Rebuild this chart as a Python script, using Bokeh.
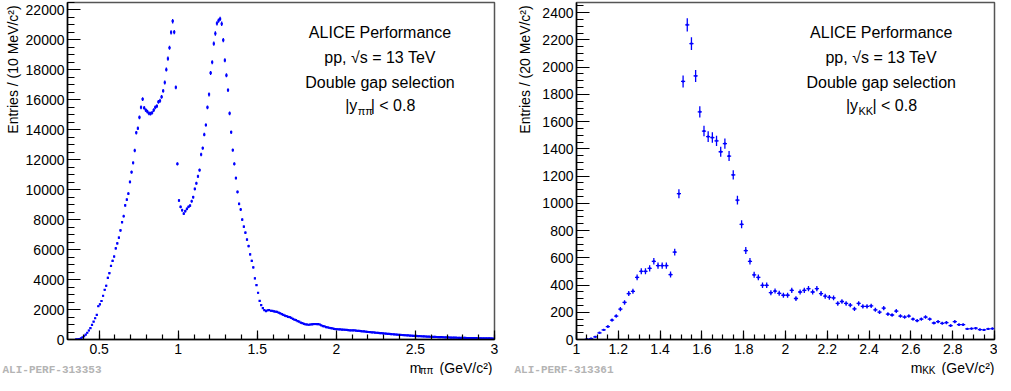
import math
from bokeh.plotting import figure
from bokeh.models import Range1d, FixedTicker, Label
from bokeh.layouts import row, column
from bokeh.embed import file_html
from bokeh.resources import INLINE

FONT = "Liberation Sans"

# ---------------- data: pi pi invariant mass (10 MeV bins) ----------------
pipi_first_bin = 0.355
pipi_bin_width = 0.01
pipi_counts = [
    3, 15, 35, 70, 140, 230, 330, 450, 600, 760,
    970, 1190, 1420, 1640, 2220, 2350, 2570, 2920, 3320, 3590,
    4120, 4430, 4910, 5250, 5540, 6090, 6420, 6800, 7280, 7830,
    8230, 8960, 9340, 9740, 10520, 11180, 11800, 12620, 13810, 14100,
    14830, 15500, 16050, 15470, 15320, 15210, 15100, 15080, 15140, 15320,
    15500, 15580, 15870, 15940, 16200, 16600, 17160, 18020, 18750, 19480,
    20500, 21250, 20520, 16830, 11730, 9280, 8860, 8630, 8410, 8570,
    8720, 8860, 8940, 9230, 9500, 10050, 10430, 10890, 11310, 12350,
    12780, 13680, 14320, 15500, 16360, 17800, 18510, 19750, 20430, 21110,
    21290, 21410, 21080, 19990, 18640, 17640, 16650, 15100, 13840, 12640,
    11730, 10780, 9850, 9060, 8680, 8010, 7530, 7130, 6670, 6240,
    5690, 5250, 4810, 4080, 3630, 3120, 2580, 2300, 2100, 1960,
    1900, 1940, 1970, 1920, 1905, 1880, 1860, 1840, 1790, 1750,
    1700, 1640, 1600, 1560, 1510, 1490, 1440, 1380, 1330, 1290,
    1230, 1200, 1120, 1090, 1040, 1010, 1000, 985, 1000, 1015,
    1020, 1035, 1020, 1025, 1000, 940, 895, 870, 830, 805,
    785, 760, 740, 715, 695, 685, 675, 670, 660, 662,
    650, 640, 632, 615, 605, 612, 603, 592, 580, 572,
    560, 548, 540, 528, 515, 500, 492, 480, 472, 460,
    452, 440, 430, 420, 410, 400, 392, 382, 372, 362,
    352, 345, 335, 326, 318, 308, 300, 292, 285, 276,
    270, 262, 256, 248, 242, 236, 228, 222, 216, 210,
    205, 200, 195, 190, 185, 180, 176, 171, 167, 162,
    158, 154, 150, 146, 142, 138, 134, 131, 128, 124,
    120, 118, 115, 112, 108, 106, 103, 100, 98, 95,
    92, 90, 88, 86, 84, 82, 80, 78, 76, 74,
    72, 70, 69, 67, 65,
]
pipi_mass = [round(pipi_first_bin + pipi_bin_width * i, 4) for i in range(len(pipi_counts))]

# ---------------- data: K K invariant mass (20 MeV bins) ----------------
kk_first_bin = 1.05
kk_bin_width = 0.02
kk_counts = [
    3, 7, 20, 49, 70, 95, 143, 172, 223, 272,
    337, 354, 456, 501, 501, 523, 574, 543, 543, 543,
    477, 642, 1071, 1895, 2311, 2173, 1936, 1672, 1531, 1490,
    1483, 1459, 1379, 1439, 1347, 1209, 1023, 846, 653, 574,
    475, 456, 398, 398, 344, 356, 339, 325, 325, 361,
    301, 349, 361, 373, 349, 373, 337, 318, 310, 305,
    265, 279, 265, 252, 225, 265, 243, 243, 247, 218,
    201, 230, 187, 180, 209, 172, 165, 172, 150, 138,
    150, 165, 150, 121, 131, 119, 124, 102, 131, 109,
    109, 78, 80, 83, 73, 70, 78, 80,
]
kk_mass = [round(kk_first_bin + kk_bin_width * i, 4) for i in range(len(kk_counts))]

# ---------------- axes / ticks ----------------
left_xrange = (0.3, 3.0)
left_yrange = (0, 22500)
left_xticks = [0.5, 1.0, 1.5, 2.0, 2.5, 3.0]
left_xlabels = ["0.5", "1", "1.5", "2", "2.5", "3"]
left_xminor = [round(0.3 + 0.1 * i, 2) for i in range(28)]
left_yticks = list(range(0, 22001, 2000))
left_ylabels = [str(t) for t in left_yticks]
left_yminor = list(range(0, 22501, 500))

right_xrange = (1.0, 3.0)
right_yrange = (0, 2475)
right_xticks = [1.0, 1.2, 1.4, 1.6, 1.8, 2.0, 2.2, 2.4, 2.6, 2.8, 3.0]
right_xlabels = ["1", "1.2", "1.4", "1.6", "1.8", "2", "2.2", "2.4", "2.6", "2.8", "3"]
right_xminor = [round(1.0 + 0.05 * i, 3) for i in range(41)]
right_yticks = list(range(0, 2401, 200))
right_ylabels = [str(t) for t in right_yticks]
right_yminor = list(range(0, 2451, 50))

ann_lines = ["ALICE Performance", "pp, \u221as = 13 TeV", "Double gap selection"]

FRAME_H = 337
MAIN_H = 2 + FRAME_H + 20
STRIP_H = 16
BLUE = "#0000ff"


def strip(w, h):
    s = figure(width=w, height=h, x_range=Range1d(0, w), y_range=Range1d(0, h),
               x_axis_type=None, y_axis_type=None, min_border=0,
               output_backend="svg", toolbar_location=None)
    s.xgrid.visible = False
    s.ygrid.visible = False
    s.outline_line_color = None
    s.background_fill_color = "white"
    s.border_fill_color = "white"
    return s


def lab(fig, x, y, text, size, align="left", baseline="middle", angle=0.0,
        font=FONT, color="black", style="normal", x_offset=0):
    fig.add_layout(Label(x=x, y=y, x_offset=x_offset, text=text, text_align=align,
                         text_baseline=baseline, angle=angle, text_font=font,
                         text_font_style=style, text_font_size=size, text_color=color))


def make_panel(mass, counts, half_bin, xr, yr, xt, xl, xm, yt, yl, ym,
               frame_w, ystrip_w, ytitle_x, bl, br, ytitle, sub, sub_w, ann_x,
               perf_id, perf_x, marker_size):
    p = figure(x_range=Range1d(*xr), y_range=Range1d(*yr),
               frame_width=frame_w, frame_height=FRAME_H,
               min_border_left=bl, min_border_right=br,
               min_border_top=2, min_border_bottom=20,
               output_backend="svg", toolbar_location=None)
    p.xgrid.visible = False
    p.ygrid.visible = False
    p.outline_line_color = "#555555"
    p.outline_line_width = 1.5
    p.background_fill_color = "white"
    p.border_fill_color = "white"

    p.xaxis.ticker = FixedTicker(ticks=xt, minor_ticks=xm)
    p.yaxis.ticker = FixedTicker(ticks=yt, minor_ticks=ym)
    p.xaxis.major_label_overrides = {float(t): s for t, s in zip(xt, xl)}
    p.yaxis.major_label_overrides = {t: s for t, s in zip(yt, yl)}
    for ax in (p.xaxis[0], p.yaxis[0]):
        ax.axis_line_color = "black"
        ax.axis_line_width = 1.5
        ax.major_tick_line_color = "black"
        ax.minor_tick_line_color = "black"
        ax.major_tick_line_width = 1.2
        ax.minor_tick_line_width = 1.2
        ax.major_tick_out = 0
        ax.minor_tick_out = 0
        ax.major_label_text_font = FONT
        ax.major_label_text_font_size = "14px"
        ax.major_label_text_color = "black"
    p.xaxis.major_tick_in = 9
    p.xaxis.minor_tick_in = 5
    p.yaxis.major_tick_in = 13
    p.yaxis.minor_tick_in = 7
    p.xaxis.major_label_standoff = 4
    p.yaxis.major_label_standoff = 3

    # data points with error bars
    x0 = [m - half_bin for m in mass]
    x1 = [m + half_bin for m in mass]
    err = [math.sqrt(c) for c in counts]
    lo = [c - e for c, e in zip(counts, err)]
    hi = [c + e for c, e in zip(counts, err)]
    p.segment(x0=x0, y0=counts, x1=x1, y1=counts, line_color=BLUE, line_width=1.3)
    p.segment(x0=mass, y0=lo, x1=mass, y1=hi, line_color=BLUE, line_width=1.3)
    p.scatter(mass, counts, marker="square", size=marker_size, fill_color=BLUE,
              line_color=BLUE, line_width=0)

    yspan = yr[1] - yr[0]

    def y_top(px):
        return yr[1] - px * yspan / FRAME_H

    # annotation block
    for i, txt in enumerate(ann_lines):
        lab(p, ann_x, y_top(30 + 25 * i), txt, "16px", align="center")
    w1, w3 = 12.5, 44.6
    left = -(w1 + sub_w + w3) / 2
    lab(p, ann_x, y_top(103), "|y", "16px", x_offset=left)
    lab(p, ann_x, y_top(108), sub, "11px", x_offset=left + w1)
    lab(p, ann_x, y_top(103), "| < 0.8", "16px", x_offset=left + w1 + sub_w + 0.5)

    # y-title strip (title aligned to the top of the frame)
    ys = strip(ystrip_w, MAIN_H)
    lab(ys, ytitle_x, MAIN_H - 3, ytitle, "14px", align="right", angle=math.pi / 2)

    # bottom strip: x title (right aligned to frame) and performance id
    panel_w = ystrip_w + bl + frame_w + br
    bs = strip(panel_w, STRIP_H)
    xr_px = ystrip_w + bl + frame_w
    lab(bs, xr_px, 8, "(GeV/c\u00b2)", "14px", align="right")
    lab(bs, xr_px - 59, 5, sub, "10px", align="right")
    lab(bs, xr_px - 59 - sub_w + 0.5, 8, "m", "14px", align="right")
    lab(bs, perf_x, 6, perf_id, "11px", font="Liberation Mono", color="#b4b4b4",
        style="bold")

    return column(row(ys, p), bs)


panel1 = make_panel(pipi_mass, pipi_counts, pipi_bin_width / 2, left_xrange, left_yrange,
                    left_xticks, left_xlabels, left_xminor, left_yticks, left_ylabels,
                    left_yminor, 427, 22, 12, 43, 6, "Entries / (10 MeV/c\u00b2)",
                    "\u03c0\u03c0", 12.5, 2.276, "ALI-PERF-313353", 2, 2.2)
panel2 = make_panel(kk_mass, kk_counts, kk_bin_width / 2, right_xrange, right_yrange,
                    right_xticks, right_xlabels, right_xminor, right_yticks, right_ylabels,
                    right_yminor, 418, 34, 24, 42, 3, "Entries / (20 MeV/c\u00b2)",
                    "KK", 13.5, 2.458, "ALI-PERF-313361", 14, 2.0)

layout = row(panel1, panel2)
open("out.html", "w").write(file_html(layout, INLINE))
